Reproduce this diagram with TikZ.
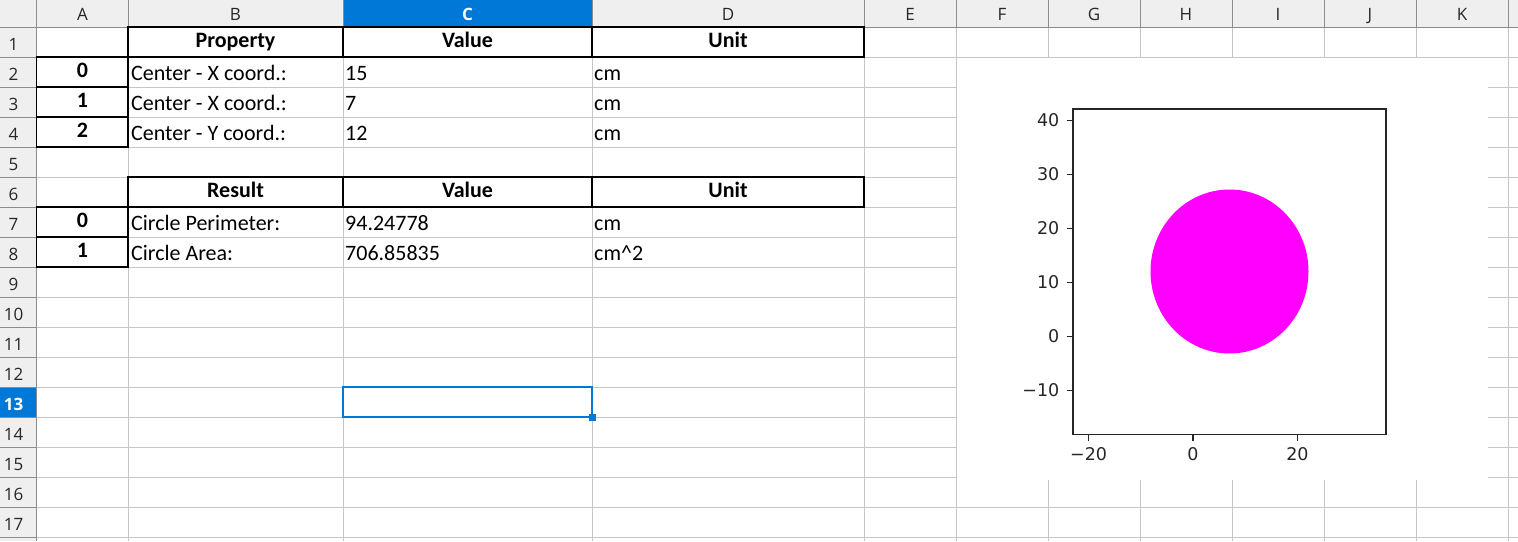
\documentclass[tikz,border=0pt]{standalone}
\usepackage{fontspec}
\setmainfont{Carlito}
\newfontfamily\uifont{Open Sans}
\newfontfamily\mplfont{DejaVu Sans}
\definecolor{gridc}{HTML}{C6C6C6}
\definecolor{hdrbg}{HTML}{EFEFEF}
\definecolor{hdrline}{HTML}{8C8C8C}
\definecolor{selblue}{HTML}{0078D7}
\definecolor{mag}{HTML}{FF00FF}
\definecolor{mpltext}{HTML}{262626}
\tikzset{
  gridline/.style={draw=gridc, line width=1pt},
  hdrsep/.style={draw=hdrline, line width=1pt},
  tblborder/.style={draw=black, line width=1.6pt},
  celltxt/.style={inner sep=0pt, anchor=base west, font=\fontsize{22}{22}\selectfont},
  boldtxt/.style={inner sep=0pt, anchor=base, font=\fontsize{22}{22}\selectfont\bfseries},
  colhdr/.style={inner sep=0pt, anchor=base, font=\uifont\fontsize{17}{17}\selectfont, text=black!85},
  rowhdr/.style={inner sep=0pt, anchor=base, font=\uifont\fontsize{17}{17}\selectfont, text=black!85},
  ticklbl/.style={inner sep=0pt, font=\mplfont\fontsize{17.5}{17.5}\selectfont, text=mpltext},
  tickmark/.style={draw=black!85, line width=1.1pt},
}
\begin{document}
\begin{tikzpicture}[x=1pt,y=-1pt]
\useasboundingbox (0,0) rectangle (1518,541);
\fill[white] (0,0) rectangle (1518,541);

% grid
\foreach \x in {128,343,592,864,956,1048,1140,1232,1324,1416,1508}
  \draw[gridline] (\x,27) -- (\x,541);
\foreach \k in {1,...,17}
  \draw[gridline] (36.5,27+30*\k) -- (1518,27+30*\k);

% headers
\fill[hdrbg] (0,0) rectangle (1518,27);
\fill[hdrbg] (0,0) rectangle (36.5,541);
\fill[selblue] (343,0) rectangle (592,27);
\fill[selblue] (0,387) rectangle (36.5,417);
\foreach \x in {128,343,592,864,956,1048,1140,1232,1324,1416,1508}
  \draw[hdrsep] (\x,0) -- (\x,27);
\foreach \k in {1,...,17}
  \draw[hdrsep] (0,27+30*\k) -- (36.5,27+30*\k);
\draw[hdrsep] (0,27) -- (1518,27);
\draw[hdrsep] (36.5,0) -- (36.5,541);

% column letters
\node[colhdr] (hA) at (82.5,20.7) {A};
\node[colhdr] (hB) at (235.5,20.7) {B};
\node[colhdr, text=white, font=\uifont\fontsize{17}{17}\selectfont\bfseries] (hC) at (467.5,20.7) {C};
\node[colhdr] (hD) at (728,20.7) {D};
\node[colhdr] (hE) at (910,20.7) {E};
\node[colhdr] (hF) at (1002,20.7) {F};
\node[colhdr] (hG) at (1094,20.7) {G};
\node[colhdr] (hH) at (1186,20.7) {H};
\node[colhdr] (hI) at (1278,20.7) {I};
\node[colhdr] (hJ) at (1370,20.7) {J};
\node[colhdr] (hK) at (1462,20.7) {K};

% row numbers
\foreach \k in {1,...,12,14,15,16,17}
  \node[rowhdr] (r\k) at (13.5,27+30*\k-6.6) {\k};
\node[rowhdr, text=white, font=\uifont\fontsize{17}{17}\selectfont\bfseries] (r13) at (13.5,27+390-6.6) {13};

% table borders
\draw[tblborder] (128,27) rectangle (864,57);
\draw[tblborder] (343,27) -- (343,57);
\draw[tblborder] (592,27) -- (592,57);
\draw[tblborder] (36.5,57) rectangle (128,147);
\draw[tblborder] (36.5,87) -- (128,87);
\draw[tblborder] (36.5,117) -- (128,117);
\draw[tblborder] (128,177) rectangle (864,207);
\draw[tblborder] (343,177) -- (343,207);
\draw[tblborder] (592,177) -- (592,207);
\draw[tblborder] (36.5,207) rectangle (128,267);
\draw[tblborder] (36.5,237) -- (128,237);

% table 1
\node[boldtxt] (b1) at (235.5,47) {Property};
\node[boldtxt] (c1) at (467.5,47) {Value};
\node[boldtxt] (d1) at (728,47) {Unit};
\node[boldtxt] (a2) at (82.5,77.3) {0};
\node[boldtxt] (a3) at (82.5,107.3) {1};
\node[boldtxt] (a4) at (82.5,137.3) {2};
\node[celltxt] (b2) at (131,80.7) {Center - X coord.:};
\node[celltxt] (b3) at (131,110.7) {Center - X coord.:};
\node[celltxt] (b4) at (131,140.7) {Center - Y coord.:};
\node[celltxt] (c2) at (345,80.7) {15};
\node[celltxt] (c3) at (345,110.7) {7};
\node[celltxt] (c4) at (345,140.7) {12};
\node[celltxt] (d2) at (594,80.7) {cm};
\node[celltxt] (d3) at (594,110.7) {cm};
\node[celltxt] (d4) at (594,140.7) {cm};

% table 2
\node[boldtxt] (b6) at (235.5,197) {Result};
\node[boldtxt] (c6) at (467.5,197) {Value};
\node[boldtxt] (d6) at (728,197) {Unit};
\node[boldtxt] (a7) at (82.5,227.3) {0};
\node[boldtxt] (a8) at (82.5,257.3) {1};
\node[celltxt] (b7) at (131,230.7) {Circle Perimeter:};
\node[celltxt] (b8) at (131,260.7) {Circle Area:};
\node[celltxt] (c7) at (345,230.7) {94.24778};
\node[celltxt] (c8) at (345,260.7) {706.85835};
\node[celltxt] (d7) at (594,230.7) {cm};
\node[celltxt] (d8) at (594,260.7) {cm\textasciicircum 2};

% selected cell
\draw[draw=selblue, line width=2pt] (343,387) rectangle (592,417);
\fill[selblue] (589,414) rectangle (596,421);

% chart
\fill[white] (957,57.5) rectangle (1488,480);
\fill[mag] (1229.5,271.5) ellipse [x radius=79, y radius=82];
\draw[draw=black!85, line width=1.3pt] (1073,109) rectangle (1386,434.3);
\foreach \v/\lab in {40/40,30/30,20/20,10/10,0/0,-10/{−10}} {
  \draw[tickmark] (1066.5,336.5-5.41*\v) -- (1073,336.5-5.41*\v);
  \node[ticklbl, anchor=east] (yl\v) at (1059.5,336.5-5.41*\v) {\lab};
}
\foreach \u/\lab in {-20/{−20},0/0,20/20} {
  \draw[tickmark] (1193+5.22*\u,434.3) -- (1193+5.22*\u,440.5);
  \node[ticklbl, anchor=north] (xl\u) at (1193+5.22*\u,447) {\lab};
}
\end{tikzpicture}
\end{document}
